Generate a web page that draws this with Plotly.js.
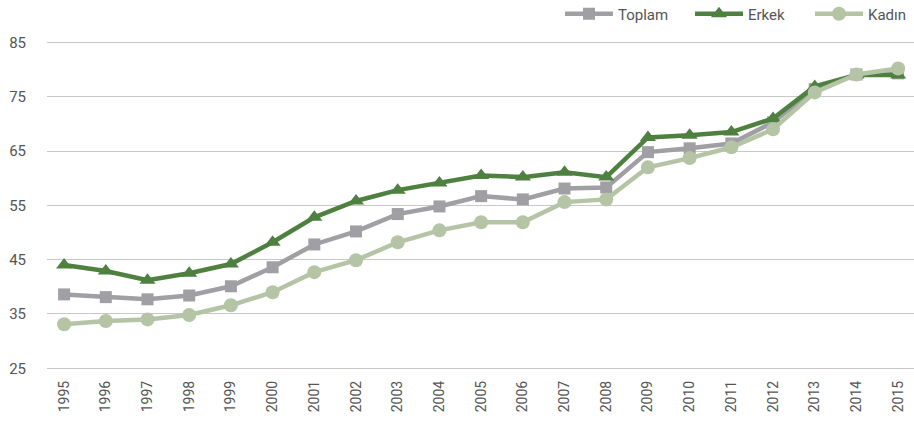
<!DOCTYPE html>
<html><head><meta charset="utf-8">
<script src="https://cdn.plot.ly/plotly-3.0.1.min.js"></script>
<style>body{margin:0;background:#fff}#c{width:914px;height:429px}</style>
</head><body><div id="c"></div>
<script>
const years = ["1995","1996","1997","1998","1999","2000","2001","2002","2003","2004","2005","2006","2007","2008","2009","2010","2011","2012","2013","2014","2015"];
const toplam = [38.6,38.1,37.7,38.4,40.1,43.6,47.8,50.2,53.4,54.8,56.7,56.1,58.1,58.3,64.8,65.5,66.4,70.3,76.4,79.1,79.3];
const erkek  = [44.0,42.9,41.2,42.5,44.2,48.2,52.8,55.8,57.8,59.1,60.5,60.2,61.1,60.2,67.5,67.9,68.5,71.0,76.9,79.0,79.0];
const kadin  = [33.1,33.7,34.0,34.8,36.6,39.0,42.7,44.9,48.2,50.4,51.9,51.9,55.6,56.1,62.0,63.7,65.7,69.0,75.8,79.1,80.2];
const yTicks = [25,35,45,55,65,75,85];
const font = "Roboto, sans-serif";
const traces = [
  {name:"Toplam", legend:"legend", x:years, y:toplam, type:"scatter", mode:"lines+markers",
   line:{color:"#9F9FA4", width:4.5}, marker:{symbol:"square", size:12, color:"#9F9FA4"}},
  {name:"Erkek", legend:"legend2", x:years, y:erkek, type:"scatter", mode:"lines+markers",
   line:{color:"#4E8040", width:4.5}, marker:{symbol:"triangle-up", size:14, color:"#4E8040"}},
  {name:"Kadın", legend:"legend3", x:years, y:kadin, type:"scatter", mode:"lines+markers",
   line:{color:"#B4C4A5", width:4.5}, marker:{symbol:"circle", size:14, color:"#B4C4A5"}}
];
function leg(px){
  return {orientation:"h", xref:"container", yref:"container", x:px/914, xanchor:"left",
          y:1-14/429, yanchor:"middle", bgcolor:"rgba(0,0,0,0)",
          font:{family:font, size:15, color:"#555"}, itemwidth:48};
}
const layout = {
  width:914, height:429,
  margin:{l:47, r:0, t:36.6, b:58.2, autoexpand:false},
  paper_bgcolor:"#fff", plot_bgcolor:"#fff",
  font:{family:font, color:"#555", size:13},
  showlegend:true,
  legend:leg(560), legend2:leg(690), legend3:leg(810),
  xaxis:{type:"category", range:[-0.41,20.38], showgrid:false, zeroline:false, showline:false,
         tickangle:-90, tickfont:{family:font, size:14, color:"#555"}, ticks:"", ticklabelstandoff:6},
  yaxis:{range:[24.5,86], tickvals:yTicks, ticktext:yTicks.map(String), showgrid:true,
         gridcolor:"#C8C8C8", gridwidth:1, zeroline:false, showline:false, ticks:"",
         tickfont:{family:font, size:15, color:"#555"}, ticklabelstandoff:20}
};
Plotly.newPlot("c", traces, layout, {displayModeBar:false});
</script></body></html>
